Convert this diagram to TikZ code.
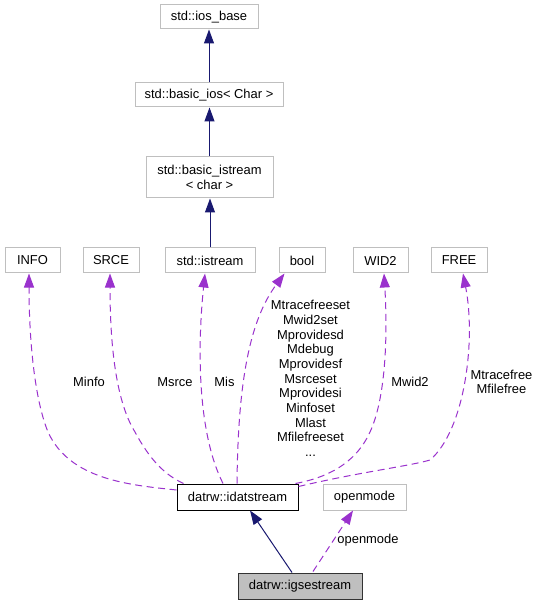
\documentclass[tikz,border=0pt]{standalone}
\usepackage{fontspec}
\setmainfont{Liberation Sans}
\usetikzlibrary{arrows.meta,calc}
\definecolor{edgepurple}{HTML}{9A32CD}
\definecolor{navyblue}{HTML}{191970}
\definecolor{boxgray}{HTML}{BFBFBF}
\begin{document}
\begin{tikzpicture}[x=0.75pt,y=-0.75pt,
  every node/.style={font=\fontsize{9.7}{11}\selectfont, inner sep=0pt},
  box/.style={draw=boxgray, line width=0.75pt, fill=white, minimum height={25*0.75pt}},
  darkbox/.style={draw=black, line width=0.75pt, fill=white, minimum height={26*0.75pt}},
  curbox/.style={draw=black!80, line width=0.75pt, fill=boxgray, minimum height={26*0.75pt}},
  inherit/.style={draw=navyblue, line width=0.75pt, -{Triangle[length=10.5pt,width=7.5pt]}},
  useedge/.style={draw=edgepurple, line width=0.75pt, dash pattern=on 5.25pt off 3.4pt, -{Triangle[length=10.5pt,width=7.5pt]}},
  lbl/.style={align=center}]
\useasboundingbox[fill=white] (0,0) rectangle (538,605);

% top chain
\node[box, minimum width={98*0.75pt}, minimum height={24*0.75pt}] (iosbase) at (209,17) {std::ios\_base};
\node[box, minimum width={148*0.75pt}, minimum height={24*0.75pt}] (basicios) at (209,95) {std::basic\_ios< Char >};
\node[box, minimum width={127*0.75pt}, minimum height={41*0.75pt}, align=center] (basicistream) at (209.5,177.5) {std::basic\_istream\\< char >};

% row of member types
\node[box, minimum width={55*0.75pt}] (info) at (32.5,260.5) {INFO};
\node[box, minimum width={56*0.75pt}] (srce) at (111,260.5) {SRCE};
\node[box, minimum width={90*0.75pt}] (istream) at (210,260.5) {std::istream};
\node[box, minimum width={46*0.75pt}] (bool) at (302,260.5) {bool};
\node[box, minimum width={55*0.75pt}] (wid2) at (380.5,260.5) {WID2};
\node[box, minimum width={56*0.75pt}] (free) at (459,260.5) {FREE};

% lower nodes
\node[darkbox, minimum width={121*0.75pt}] (idat) at (237.5,497) {datrw::idatstream};
\node[box, minimum width={83*0.75pt}, minimum height={26*0.75pt}] (openmode) at (364.5,497) {openmode};
\node[curbox, minimum width={124*0.75pt}] (igses) at (300,586) {datrw::igsestream};

% inheritance
\draw[inherit] (basicios.north) -- (iosbase.south);
\draw[inherit] (basicistream.north) -- (basicistream.north |- basicios.south);
\draw[inherit] (istream.north) -- (istream.north |- basicistream.south);
\draw[inherit] ($(igses.north)+(-8,0)$) -- ($(idat.south)+(12.5,0)$);

% usage edges
\draw[useedge] ($(igses.north)+(13,-1)$) -- ($(openmode.south)+(-11.5,0)$);
\draw[useedge] ($(idat.west)+(0,-7)$) .. controls (130,485) and (70,480) .. (48,432)
   .. controls (33,395) and (29,330) .. ($(info.south)+(-3.5,0)$);
\draw[useedge] ($(idat.north west)+(7,0)$) .. controls (165,475) and (150,460) .. (135,432)
   .. controls (115,400) and (110,340) .. ($(srce.south)+(-1,0)$);
\draw[useedge] ($(idat.north)+(-14.5,0)$) .. controls (196,430) and (198,340) .. ($(istream.south)+(-5,0)$);
\draw[useedge] ($(idat.north)+(-0.5,0)$) .. controls (238,380) and (250,320) .. ($(bool.south west)+(6,0)$);
\draw[useedge] ($(idat.north east)+(-3,0)$) .. controls (325,478) and (355,465) .. (370,432)
   .. controls (385,400) and (388,340) .. ($(wid2.south)+(3.5,0)$);
\draw[useedge] ($(idat.north east)+(0,3)$) .. controls (360,472) and (410,466) .. (430,460)
   .. controls (465,430) and (476,340) .. ($(free.south)+(4,0)$);

% labels
\node[lbl] (lminfo) at (89,382) {Minfo};
\node[lbl] (lmsrce) at (175,382) {Msrce};
\node[lbl] (lmis) at (224.5,382) {Mis};
\node[lbl] (lbool) at (310.5,378.5) {Mtracefreeset\\Mwid2set\\Mprovidesd\\Mdebug\\Mprovidesf\\Msrceset\\Mprovidesi\\Minfoset\\Mlast\\Mfilefreeset\\...};
\node[lbl] (lmwid2) at (410,382) {Mwid2};
\node[lbl] (lfree) at (501.5,382) {Mtracefree\\Mfilefree};
\node[lbl] (lopen) at (368,540) {openmode};
\end{tikzpicture}
\end{document}
